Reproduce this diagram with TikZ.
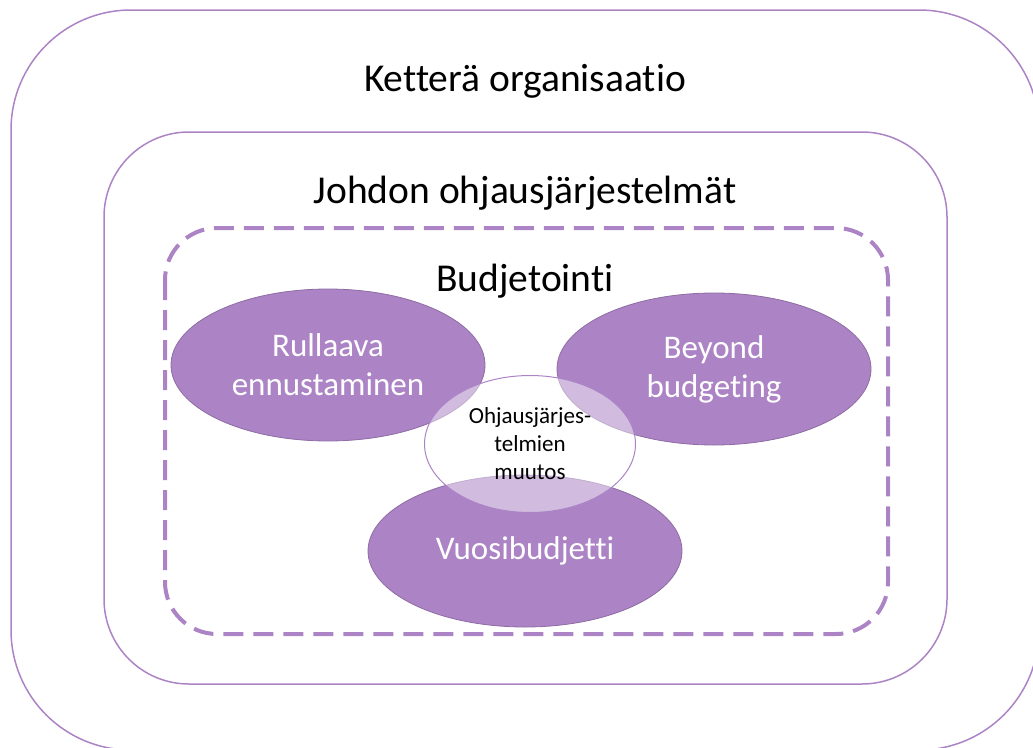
\documentclass[tikz,border=0pt]{standalone}
\usepackage{fontspec}
\setmainfont{Carlito}[Ligatures={NoCommon}]
\usetikzlibrary{shapes.geometric}
\definecolor{lavender}{HTML}{AC84C6}
\definecolor{lavenderdark}{HTML}{8E6CA3}

\begin{document}
\begin{tikzpicture}[x=1pt,y=-1pt,
  frame/.style={draw=lavender,line width=1.5pt},
  heading/.style={anchor=base,font=\fontsize{39.5}{44}\selectfont},
  blob/.style={ellipse,draw=lavenderdark,line width=0.8pt,fill=lavender,
    text=white,align=center,inner sep=0pt,minimum width=314pt,
    minimum height=152pt,font=\fontsize{33}{39}\selectfont},
  core/.style={ellipse,draw=lavender,line width=1pt,fill=white,
    fill opacity=0.45,text opacity=1,align=center,inner sep=0pt,
    minimum width=211pt,minimum height=137pt,
    font=\fontsize{23}{28}\selectfont}]
\useasboundingbox (0,0) rectangle (1033,747);
\clip (0,0) rectangle (1033,747);

% frames
\draw [frame,rounded corners=120pt] (11,10) rectangle (1039,750);
\draw [frame,rounded corners=85pt] (104,132) rectangle (947,684);
\draw [frame,line width=4pt,dash pattern=on 20pt off 10pt,rounded corners=52pt]
  (165,228) rectangle (888,634);

\node [heading] (agile) at (525,91) {Ketterä organisaatio};
\node [heading] (mcs) at (525,203) {Johdon ohjausjärjestelmät};
\node [heading] (budget) at (525,291) {Budjetointi};

% ellipses
\node [blob] (rolling) at (328,365) {Rullaava\\ennustaminen};
\node [blob] (beyond) at (714,369) {Beyond\\budgeting};
\node [blob] (annual) at (525,551) {Vuosibudjetti};
\node [core] (change) at (530,444) {Ohjausjärjes-\\telmien\\muutos};
\end{tikzpicture}
\end{document}
